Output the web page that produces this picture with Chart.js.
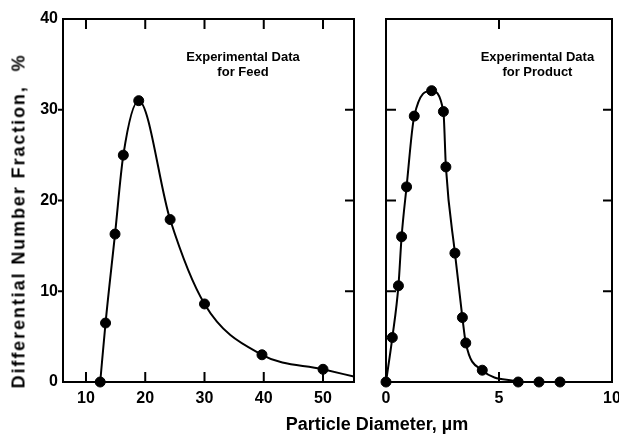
<!DOCTYPE html>
<html>
<head>
<meta charset="utf-8">
<script src="https://cdn.jsdelivr.net/npm/chart.js@4.4.1/dist/chart.umd.min.js"></script>
<style>
  html, body { margin: 0; padding: 0; background: #fff; overflow: hidden; }
  #wrap { position: relative; width: 619px; height: 435px; }
  canvas { position: absolute; top: 0; }
  #feed { left: 0; }
  #product { left: 362px; }
  .titulo { position: absolute; white-space: nowrap; color: #000; font-family: "Liberation Sans", Arial, sans-serif; font-weight: bold; }
  #ytitle { left: 19px; top: 221px; font-size: 18px; letter-spacing: 1.9px; transform: translate(-50%, -50%) rotate(-90deg); }
  #xtitle { left: 377px; top: 424px; font-size: 18px; transform: translate(-50%, -50%); }
</style>
</head>
<body>
<div id="wrap">
  <canvas id="feed" width="362" height="435"></canvas>
  <canvas id="product" width="270" height="435"></canvas>
  <div class="titulo" id="ytitle">Differential Number Fraction,&nbsp; %</div>
  <div class="titulo" id="xtitle">Particle Diameter, µm</div>
</div>
<script>
// datos
const feedX = [12.4, 13.3, 14.9, 16.3, 18.9, 24.2, 30.0, 39.7, 50.0];
const feedY = [0, 6.5, 16.3, 25.0, 31.0, 17.9, 8.6, 3.0, 1.4];
// la curva sigue hasta el borde derecho
const feedCurveEndX = 55.2;
const feedCurveEndY = 0.6;

const prodX = [0, 0.28, 0.55, 0.69, 0.91, 1.25, 2.02, 2.54, 2.65, 3.05, 3.38, 3.53, 4.26, 5.85, 6.77, 7.7];
const prodY = [0, 4.9, 10.6, 16.0, 21.5, 29.3, 32.1, 29.8, 23.7, 14.2, 7.1, 4.3, 1.3, 0, 0, 0];
const prodCurveLast = 5.85; // la curva termina en este punto

const yTicks = [0, 10, 20, 30, 40];
const feedXTicks = [10, 20, 30, 40, 50];
const prodXTicks = [0, 5, 10];
const sideTicks = [10, 20, 30];
const prodTopTicks = [5];

const feedNote = ["Experimental Data", "for Feed"];
const prodNote = ["Experimental Data", "for Product"];

const FONT = "'Liberation Sans', Arial, sans-serif";
Chart.defaults.font.family = FONT;
Chart.defaults.color = "#000";

const toPts = (xs, ys) => xs.map((x, i) => ({ x, y: ys[i] }));

// marco, marcas de eje y texto de la nota
const marco = {
  id: "marco",
  afterDatasetsDraw(chart, args, o) {
    const { ctx, chartArea: a, scales: { x, y } } = chart;
    ctx.save();
    ctx.strokeStyle = "#000";
    ctx.lineWidth = 2;
    ctx.strokeRect(a.left, a.top, a.right - a.left, a.bottom - a.top);
    ctx.beginPath();
    o.top.forEach(v => { const p = x.getPixelForValue(v); ctx.moveTo(p, a.top); ctx.lineTo(p, a.top + 10); });
    o.bottom.forEach(v => { const p = x.getPixelForValue(v); ctx.moveTo(p, a.bottom); ctx.lineTo(p, a.bottom - 10); });
    o.right.forEach(v => { const p = y.getPixelForValue(v); ctx.moveTo(a.right, p); ctx.lineTo(a.right - 9, p); });
    o.left.forEach(v => { const p = y.getPixelForValue(v); ctx.moveTo(a.left, p); ctx.lineTo(a.left + o.leftLen, p); });
    ctx.stroke();
    ctx.fillStyle = "#000";
    ctx.font = "bold 13px " + FONT;
    ctx.textAlign = "center";
    ctx.textBaseline = "middle";
    const nx = x.getPixelForValue(o.noteX);
    const ny = y.getPixelForValue(o.noteY);
    o.note.forEach((t, i) => ctx.fillText(t, nx, ny + i * 15));
    ctx.restore();
  }
};

function datasets(xs, ys, cx, cy) {
  return [
    {
      data: toPts(xs, ys),
      showLine: false,
      pointRadius: 5,
      pointBackgroundColor: "#000",
      pointBorderColor: "#000",
      clip: false
    },
    {
      data: toPts(cx, cy),
      showLine: true,
      borderColor: "#000",
      borderWidth: 2,
      pointRadius: 0,
      cubicInterpolationMode: "monotone"
    }
  ];
}

function opciones(xMin, xMax, xTicks, pad, yWidth, marcoOpts, showY) {
  return {
    responsive: false,
    animation: false,
    events: [],
    layout: { padding: pad },
    plugins: { legend: { display: false }, tooltip: { enabled: false }, marco: marcoOpts },
    scales: {
      x: {
        type: "linear",
        min: xMin,
        max: xMax,
        afterBuildTicks: s => { s.ticks = xTicks.map(v => ({ value: v })); },
        afterFit: s => { s.height = 53; },
        grid: { display: false, drawTicks: false },
        border: { display: false },
        ticks: { autoSkip: false, maxRotation: 0, padding: 7, font: { size: 16, weight: "bold" } }
      },
      y: {
        min: 0,
        max: 40,
        afterBuildTicks: s => { s.ticks = yTicks.map(v => ({ value: v })); },
        afterFit: s => { s.width = yWidth; },
        grid: { display: false, drawTicks: false },
        border: { display: false },
        ticks: { display: showY, padding: 5, font: { size: 16, weight: "bold" } }
      }
    }
  };
}

new Chart(document.getElementById("feed"), {
  type: "scatter",
  data: {
    datasets: datasets(feedX, feedY, [...feedX, feedCurveEndX], [...feedY, feedCurveEndY])
  },
  options: opciones(6.12, 55.23, feedXTicks, { top: 19, right: 8, left: 0, bottom: 0 }, 63, {
    top: feedXTicks, bottom: feedXTicks, right: sideTicks, left: sideTicks, leftLen: -5,
    note: feedNote, noteX: 36.5, noteY: 35.8
  }, true),
  plugins: [marco]
});

const nCurva = prodX.indexOf(prodCurveLast) + 1;
new Chart(document.getElementById("product"), {
  type: "scatter",
  data: {
    datasets: datasets(prodX, prodY, prodX.slice(0, nCurva), prodY.slice(0, nCurva))
  },
  options: opciones(0, 10, prodXTicks, { top: 19, right: 20, left: 0, bottom: 0 }, 24, {
    top: prodTopTicks, bottom: prodTopTicks, right: sideTicks, left: sideTicks, leftLen: 10,
    note: prodNote, noteX: 6.7, noteY: 35.8
  }, false),
  plugins: [marco]
});
</script>
</body>
</html>
